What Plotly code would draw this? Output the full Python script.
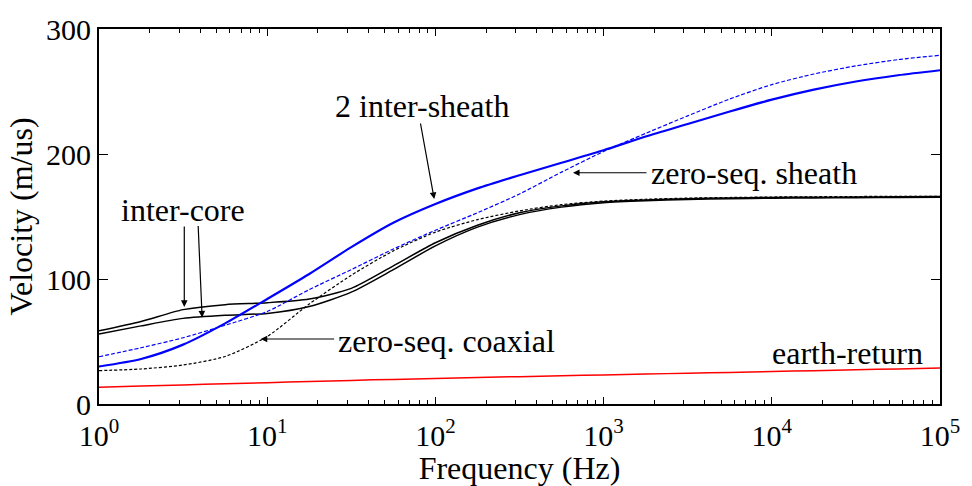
import plotly.graph_objects as go

# ---- data ----
freq = [1, 1.778, 3.162, 5.623, 10, 17.78, 31.62, 56.23, 100, 177.8, 316.2,
        562.3, 1000, 1778, 3162, 5623, 10000, 17780, 31620, 56230, 100000]

earth_return = [13.5, 14.4, 15.3, 16.2, 17.1, 18.0, 18.9, 19.7, 20.5, 21.2, 21.9,
                22.6, 23.3, 24.0, 24.6, 25.3, 26.0, 26.7, 27.4, 28.1, 28.8]
zero_seq_coaxial = [26.7, 28.0, 31.2, 38.0, 54.0, 80.0, 103.0, 122.5, 137.5, 147.5, 154.5,
                    159.5, 162.3, 163.8, 164.7, 165.2, 165.6, 165.8, 166.0, 166.1, 166.2]
inter_core_a = [58.5, 66.0, 75.5, 79.5, 81.0, 84.0, 92.5, 110.5, 129.0, 143.0, 153.0,
                158.5, 161.8, 163.3, 164.2, 164.8, 165.2, 165.4, 165.6, 165.8, 166.0]
inter_core_b = [56.0, 62.5, 68.5, 71.0, 72.5, 78.0, 89.5, 107.5, 126.5, 141.5, 151.5,
                157.5, 161.0, 162.6, 163.6, 164.2, 164.6, 164.9, 165.1, 165.3, 165.5]
zero_seq_sheath = [37.8, 45.0, 53.0, 63.0, 74.0, 91.5, 107.5, 124.0, 139.0, 153.0, 168.0,
                   185.5, 202.0, 216.5, 230.5, 244.0, 255.5, 264.0, 270.5, 275.5, 279.0]
inter_sheath_2 = [30.0, 36.0, 47.5, 64.5, 84.0, 104.0, 125.5, 145.0, 160.0, 172.5, 183.0,
                  193.0, 203.0, 214.0, 224.0, 234.0, 243.5, 251.5, 258.0, 263.0, 267.0]

x_tickvals = [1, 10, 100, 1000, 10000, 100000]
x_ticktext = ["10<sup>0</sup>", "10<sup>1</sup>", "10<sup>2</sup>",
              "10<sup>3</sup>", "10<sup>4</sup>", "10<sup>5</sup>"]
y_tickvals = [0, 100, 200, 300]
minor_vals = [m * d for d in [1, 10, 100, 1000, 10000] for m in range(2, 10)]

FONT = "Liberation Serif"

fig = go.Figure()
series = [
    (earth_return, "#ff0000", 1.5, "solid"),
    (zero_seq_coaxial, "#000000", 1.2, "3px,2px"),
    (inter_core_a, "#000000", 1.5, "solid"),
    (inter_core_b, "#000000", 1.5, "solid"),
    (zero_seq_sheath, "#0000ff", 1.2, "4px,2px"),
    (inter_sheath_2, "#0000ff", 2.2, "solid"),
]
for vals, col, w, dash in series:
    fig.add_trace(go.Scatter(x=freq, y=vals, mode="lines",
                             line=dict(color=col, width=w, dash=dash, shape="spline", smoothing=0.7),
                             showlegend=False, hoverinfo="skip"))

ann_font = dict(family=FONT, size=32, color="black")
annotations = []
for txt, lx, ly, anchor in [
    ("2 inter-sheath", 1.922, 238.6, "center"),
    ("zero-seq. sheath", 3.27, 184.5, "left"),
    ("inter-core", 0.50, 155.4, "center"),
    ("zero-seq. coaxial", 1.41, 50.5, "left"),
    ("earth-return", 3.99, 40.5, "left"),
]:
    annotations.append(dict(x=lx, y=ly, xref="x", yref="y", text=txt, showarrow=False,
                            xanchor=anchor, yanchor="middle", font=ann_font))
for tx, ty, ax, ay in [
    (1.993, 164.0, -14, -77),
    (2.818, 185.0, 75, 0),
    (0.507, 77.7, 0, -82),
    (0.613, 69.2, -4, -93),
    (0.961, 52.0, 75, 0),
]:
    annotations.append(dict(x=tx, y=ty, xref="x", yref="y", text="", showarrow=True,
                            ax=ax, ay=ay, arrowhead=2, arrowsize=1.1, arrowwidth=1.2,
                            arrowcolor="black", standoff=0, startstandoff=0))

fig.update_layout(
    width=972, height=486, autosize=False,
    margin=dict(l=99, r=25, t=21, b=79, pad=0),
    paper_bgcolor="white", plot_bgcolor="white",
    font=dict(family=FONT, color="black"),
    annotations=annotations,
    xaxis=dict(type="log", range=[0, 5], tickvals=x_tickvals, ticktext=x_ticktext,
               ticks="inside", ticklen=7, tickwidth=1, tickcolor="black",
               showline=True, linecolor="black", linewidth=1.8, mirror="allticks",
               showgrid=False, zeroline=False, ticklabelstandoff=4,
               minor=dict(ticks="inside", ticklen=4, tickwidth=1, tickcolor="black",
                          tickvals=minor_vals, showgrid=False),
               tickfont=dict(family=FONT, size=30, color="black"),
               title=dict(text="Frequency (Hz)", font=dict(family=FONT, size=32, color="black"),
                          standoff=0)),
    yaxis=dict(range=[0, 300], tickvals=y_tickvals,
               ticks="inside", ticklen=9, tickwidth=1, tickcolor="black",
               showline=True, linecolor="black", linewidth=1.8, mirror="allticks",
               showgrid=False, zeroline=False,
               tickfont=dict(family=FONT, size=30, color="black"),
               title=dict(text="Velocity (m/us)", font=dict(family=FONT, size=32, color="black"),
                          standoff=4)),
)

fig.write_html("out.html")
